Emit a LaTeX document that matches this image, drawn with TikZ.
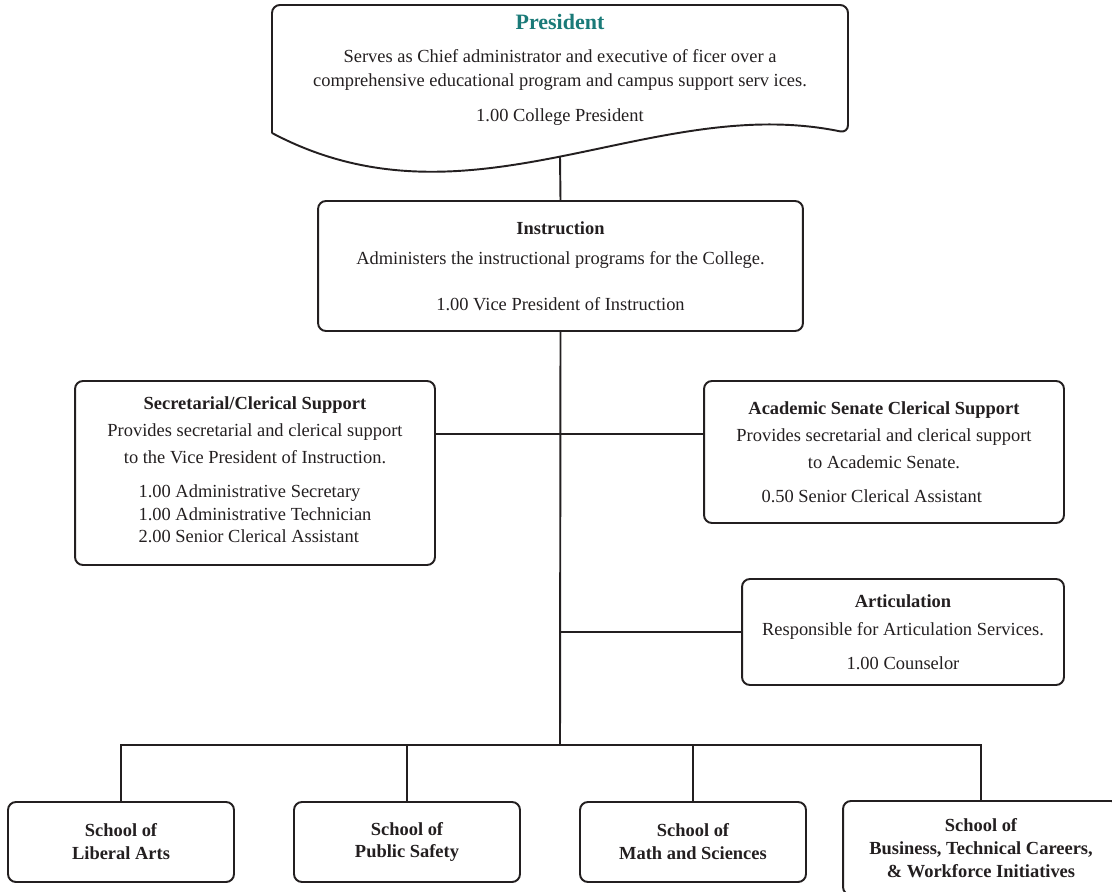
\documentclass[tikz,border=0pt]{standalone}
\usepackage{fontspec}
\setmainfont{Liberation Serif}
\definecolor{ink}{HTML}{231F20}
\definecolor{presteal}{HTML}{1A7A78}

\begin{document}
\begin{tikzpicture}[x=0.02cm, y=-0.02cm,
    every node/.style={text=ink, font=\fontsize{10.5}{15.4}\selectfont},
    unit/.style={draw=ink, line width=1.1pt, rounded corners=4.5pt,
      inner sep=0pt, align=center},
    school/.style={unit, minimum width=4.52cm, minimum height=1.6cm,
      font=\fontsize{10.5}{13}\selectfont\bfseries},
    link/.style={draw=ink, line width=1.1pt}]
  \useasboundingbox (0,0) rectangle (1112,892);

  \draw[link, rounded corners=4.5pt] (272,133) -- (272,5) -- (848,5) -- (848,133)
    [sharp corners] .. controls (650,92) and (470,238) .. (272,133);
  \node[align=center, font=\fontsize{10.5}{13.7}\selectfont] (pres) at (560,70)
    {{\fontsize{12.5}{14}\selectfont\bfseries\color{presteal}President}\\[5pt]
     Serves as Chief administrator and executive of ficer over a\\
     comprehensive educational program and campus support serv ices.\\[6.3pt]
     1.00 College President};
  \coordinate (presfoot) at (560,157);

  \node[unit, minimum width=9.7cm, minimum height=2.6cm] (instr) at (560.5,266)
    {\textbf{Instruction}\\[1.6pt]
     Administers the instructional programs for the College.\\[10.8pt]
     1.00 Vice President of Instruction};

  \node[unit, minimum width=7.2cm, minimum height=3.68cm] (sec) at (255,473)
    {\textbf{Secretarial/Clerical Support}\\
     Provides secretarial and clerical support\\
     to the Vice President of Instruction.\\[4pt]
     {\fontsize{10.5}{12.8}\selectfont\begin{tabular}[t]{@{}l@{}}
       1.00 Administrative Secretary\\
       1.00 Administrative Technician\\
       2.00 Senior Clerical Assistant
     \end{tabular}}};

  \node[unit, minimum width=7.2cm, minimum height=2.84cm] (senate) at (884,452)
    {\textbf{Academic Senate Clerical Support}\\
     Provides secretarial and clerical support\\
     to Academic Senate.\\[4pt]
     0.50 Senior Clerical Assistant\hspace*{14pt}};

  \node[unit, minimum width=6.44cm, minimum height=2.12cm] (artic) at (903,632)
    {\textbf{Articulation}\\[0.6pt]
     Responsible for Articulation Services.\\[4pt]
     1.00 Counselor};

  \node[school] (liberal) at (121,842) {School of\\Liberal Arts};
  \node[school] (safety) at (407,842) {School of\\Public Safety};
  \node[school] (science) at (693,842) {School of\\Math and Sciences};
  \node[school, minimum width=5.52cm, minimum height=1.88cm] (business) at (981,848)
    {School of\\Business, Technical Careers,\\\& Workforce Initiatives};

  \coordinate (hub) at (560,745);
  \coordinate (secjoin) at (560,434);
  \draw[link] (presfoot) -- (instr.north);
  \draw[link] (instr.south) -- (hub);
  \draw[link] (secjoin -| sec.east) -- (secjoin -| senate.west);
  \draw[link] (artic.west -| hub) -- (artic.west);
  \draw[link] (liberal.north) |- (hub) -| (business.north);
  \foreach \s in {safety, science}
    \draw[link] (\s.north) -- (\s.north |- hub);
\end{tikzpicture}
\end{document}
